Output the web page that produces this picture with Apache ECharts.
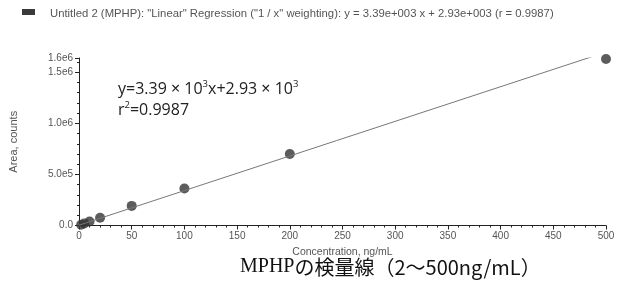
<!DOCTYPE html>
<html>
<head>
<meta charset="utf-8">
<script src="https://cdn.jsdelivr.net/npm/echarts@6/dist/echarts.min.js"></script>
<style>
  html, body { margin: 0; padding: 0; background: #fff; }
  #chart { width: 621px; height: 287px; }
</style>
</head>
<body>
<div id="chart"></div>
<script>
// Datos de la curva de calibración
const concentraciones = [2, 5, 10, 20, 50, 100, 200, 500];
const areas = [8000, 20000, 40000, 76000, 192000, 362000, 700000, 1630000];
const pendiente = 3390;
const intercepto = 2930;
const lineaX = [0, 500];
const yTicks = [0, 500000, 1000000, 1500000, 1640000];

const puntos = concentraciones.map((x, i) => [x, areas[i]]);
const linea = lineaX.map(x => [x, pendiente * x + intercepto]);

function formatoY(v) {
    if (v === 0) return '0.0';
    const exp = Math.floor(Math.log10(v));
    return (v / Math.pow(10, exp)).toFixed(1) + 'e' + exp;
}

const grafico = echarts.init(document.getElementById('chart'));
grafico.setOption({
    animation: false,
    textStyle: { fontFamily: 'Liberation Sans, Arial, sans-serif' },
    grid: { left: 78, right: 15, top: 58, bottom: 61.5 },
    xAxis: {
        type: 'value', min: 0, max: 500, interval: 50,
        name: 'Concentration, ng/mL', nameLocation: 'middle', nameGap: 19,
        nameTextStyle: { fontSize: 10.5, color: '#555' },
        axisLine: { lineStyle: { color: '#222', width: 1 } },
        axisTick: { length: 4, lineStyle: { color: '#222' } },
        minorTick: { show: true, splitNumber: 5, length: 2, lineStyle: { color: '#222' } },
        axisLabel: { fontSize: 10, color: '#555', margin: 6 },
        splitLine: { show: false }
    },
    yAxis: {
        type: 'value', min: 0, max: yTicks[yTicks.length - 1], interval: 500000,
        name: 'Area, counts', nameLocation: 'middle', nameGap: 60, nameRotate: 90,
        nameTextStyle: { fontSize: 11, color: '#555' },
        axisLine: { show: true, lineStyle: { color: '#222', width: 1 } },
        axisTick: { show: true, length: 4, lineStyle: { color: '#222' } },
        minorTick: { show: true, splitNumber: 5, length: 2, lineStyle: { color: '#222' } },
        axisLabel: { fontSize: 10, color: '#555', margin: 6, formatter: formatoY, showMaxLabel: true },
        splitLine: { show: false }
    },
    series: [
        {
            type: 'line', data: linea, showSymbol: false, clip: true,
            lineStyle: { color: '#777', width: 1 }, silent: true
        },
        {
            type: 'scatter', data: puntos, symbol: 'circle', symbolSize: 10,
            itemStyle: { color: '#333' }
        }
    ],
    graphic: [
        { type: 'rect', shape: { x: 22, y: 9, width: 13, height: 6 }, style: { fill: '#3a3a3a' } },
        {
            type: 'text', left: 50, top: 8,
            style: {
                text: 'Untitled 2 (MPHP): "Linear" Regression ("1 / x" weighting): y = 3.39e+003 x + 2.93e+003 (r = 0.9987)',
                fontSize: 11.3, fill: '#555', fontFamily: 'Liberation Sans, Arial, sans-serif'
            }
        },
        {
            type: 'text', left: 118, top: 79,
            style: {
                text: '{n|y=3.39}{m| × }{n|10}{s|3}{n|x+2.93}{m| × }{n|10}{s|3}',
                rich: {
                    n: { fontSize: 16, fill: '#222', fontFamily: 'Open Sans, sans-serif', lineHeight: 20 },
                    m: { fontSize: 16, fill: '#222', fontFamily: 'Noto Sans, sans-serif', lineHeight: 20 },
                    s: { fontSize: 9.5, fill: '#222', fontFamily: 'Open Sans, sans-serif', verticalAlign: 'top', lineHeight: 20 }
                }
            }
        },
        {
            type: 'text', left: 118, top: 100,
            style: {
                text: '{n|r}{s|2}{n|=0.9987}',
                rich: {
                    n: { fontSize: 16, fill: '#222', fontFamily: 'Open Sans, sans-serif', lineHeight: 20 },
                    s: { fontSize: 9.5, fill: '#222', fontFamily: 'Open Sans, sans-serif', verticalAlign: 'top', lineHeight: 20 }
                }
            }
        },
        {
            type: 'text', left: 240, top: 257,
            style: {
                text: '{a|MPHP}{b|の検量線（2〜500ng/mL）}',
                rich: {
                    a: { fontSize: 20, fill: '#111', fontFamily: 'Liberation Serif, serif' },
                    b: { fontSize: 20, fill: '#111', fontFamily: 'Noto Sans CJK JP, sans-serif' }
                }
            }
        }
    ]
});
</script>
</body>
</html>
